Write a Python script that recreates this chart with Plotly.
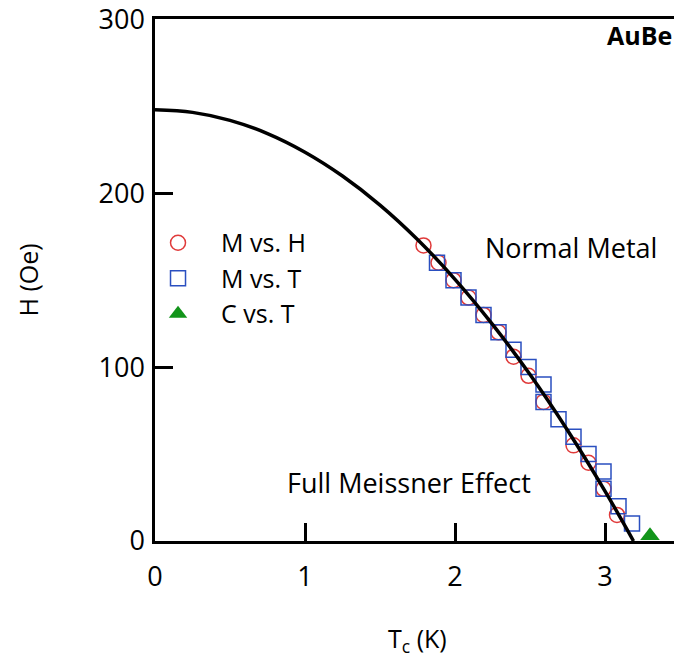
import plotly.graph_objects as go

# M vs. H (red circles)
mh_T = [1.79, 1.89, 1.99, 2.09, 2.19, 2.29, 2.39, 2.49, 2.59, 2.79, 2.89, 2.99, 3.08]
mh_H = [170, 160, 150, 140, 130, 120, 106, 95, 80, 55, 45, 30, 15]

# M vs. T (blue squares)
mt_T = [1.88, 1.99, 2.09, 2.19, 2.29, 2.39, 2.49, 2.59, 2.59, 2.69, 2.79, 2.89, 2.99, 2.99, 3.09, 3.18]
mt_H = [160, 150, 140, 130, 120, 110, 100, 90, 80, 70, 60, 50, 40, 30, 20, 10]

# C vs. T (green triangle)
ct_T = [3.30]
ct_H = [3]

# fitted critical-field curve
fit_T = [0.0, 0.25, 0.5, 0.75, 1.0, 1.25, 1.5, 1.75, 2.0, 2.25, 2.5, 2.75, 3.0, 3.19]
fit_H = [248.0, 246.5, 241.9, 234.3, 223.6, 209.9, 193.2, 173.4, 150.5, 124.6, 95.7, 63.7, 28.7, 0.0]

x_ticks = [0, 1, 2, 3]
y_ticks = [0, 100, 200, 300]

FONT = "Open Sans"
FS = 27

fig = go.Figure()
fig.add_trace(go.Scatter(x=mh_T, y=mh_H, mode="markers", name="M vs. H",
                         marker=dict(symbol="circle-open", size=15, color="#e03a3a",
                                     line=dict(width=1.5, color="#e03a3a"))))
fig.add_trace(go.Scatter(x=mt_T, y=mt_H, mode="markers", name="M vs. T",
                         marker=dict(symbol="square-open", size=15, color="#2a4fc0",
                                     line=dict(width=1.5, color="#2a4fc0"))))
fig.add_trace(go.Scatter(x=ct_T, y=ct_H, mode="markers", name="C vs. T", cliponaxis=False,
                         marker=dict(symbol="triangle-up", size=17, color="#12941a")))
fig.add_trace(go.Scatter(x=fit_T, y=fit_H, mode="lines", showlegend=False,
                         line=dict(color="black", width=3.5, shape="spline")))

fig.update_layout(
    width=674, height=667,
    margin=dict(l=155, r=0, t=16, b=126),
    paper_bgcolor="white", plot_bgcolor="white",
    font=dict(family=FONT, size=FS, color="black"),
    showlegend=True,
    legend=dict(x=-0.0385, y=0.615, xanchor="left", yanchor="top",
                bgcolor="rgba(0,0,0,0)", font=dict(size=FS - 2, family=FONT),
                itemsizing="trace", itemwidth=76, tracegroupgap=0),
    xaxis=dict(range=[0, 3.46], tickvals=x_ticks, ticks="inside", ticklen=18, tickwidth=2.5,
               tickcolor="black", showline=True, linewidth=2.5, linecolor="black", mirror=True,
               showgrid=False, zeroline=False, tickfont=dict(size=FS), ticklabelstandoff=10,
               ticklabeloverflow="allow"),
    yaxis=dict(range=[0, 300.2], tickvals=y_ticks, ticks="inside", ticklen=18, tickwidth=2.5,
               tickcolor="black", showline=True, linewidth=2.5, linecolor="black",
               showgrid=False, zeroline=False, tickfont=dict(size=FS), ticklabelstandoff=2,
               ticklabeloverflow="allow"),
)

fig.add_annotation(x=(28 - 155) / 519, y=0.499, xref="paper", yref="paper", text="H (Oe)",
                   xanchor="center", yanchor="middle",
                   textangle=-90, showarrow=False, font=dict(size=FS - 2, family=FONT))
fig.add_annotation(x=(417 - 155) / 519, y=(541 - 640) / 525, xref="paper", yref="paper",
                   xanchor="center", yanchor="middle",
                   text="T<sub>c</sub> (K)", showarrow=False, font=dict(size=FS - 2, family=FONT))
fig.add_annotation(x=2.77, y=169, text="Normal Metal", showarrow=False,
                   font=dict(size=FS, family=FONT))
fig.add_annotation(x=1.69, y=33.7, text="Full Meissner Effect", showarrow=False,
                   font=dict(size=FS, family=FONT))
fig.add_annotation(x=1.0, xref="paper", xanchor="right", y=1.005, yref="paper", yanchor="top",
                   text="<b>AuBe</b>", showarrow=False, font=dict(size=25, family=FONT))

fig.write_html("out.html")
